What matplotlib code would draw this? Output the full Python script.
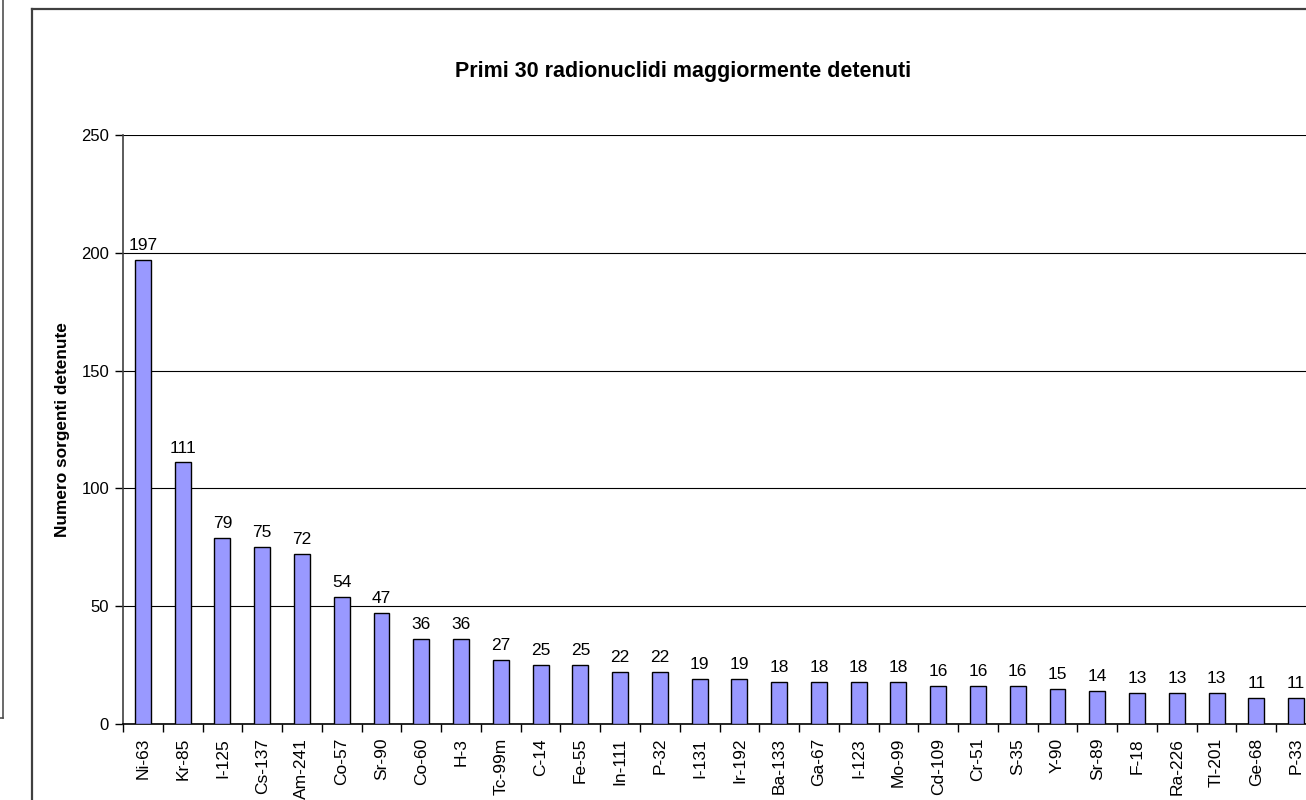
import matplotlib.pyplot as plt
from matplotlib.lines import Line2D

plt.rcParams['font.family'] = ['Liberation Sans', 'DejaVu Sans']

nuclidi = ['Ni-63', 'Kr-85', 'I-125', 'Cs-137', 'Am-241', 'Co-57', 'Sr-90', 'Co-60',
           'H-3', 'Tc-99m', 'C-14', 'Fe-55', 'In-111', 'P-32', 'I-131', 'Ir-192',
           'Ba-133', 'Ga-67', 'I-123', 'Mo-99', 'Cd-109', 'Cr-51', 'S-35', 'Y-90',
           'Sr-89', 'F-18', 'Ra-226', 'Tl-201', 'Ge-68', 'P-33']
sorgenti = [197, 111, 79, 75, 72, 54, 47, 36, 36, 27, 25, 25, 22, 22, 19, 19,
            18, 18, 18, 18, 16, 16, 16, 15, 14, 13, 13, 13, 11, 11]
yticks = [0, 50, 100, 150, 200, 250]

W, H = 1306, 800
fig = plt.figure(figsize=(W / 100, H / 100), dpi=100)

# cornice esterna del grafico (tagliata a destra e in basso)
fig.add_artist(Line2D([32 / W, 32 / W], [0, 1 - 9 / H], color='#404040', lw=1.6))
fig.add_artist(Line2D([32 / W, 1], [1 - 9 / H, 1 - 9 / H], color='#404040', lw=1.6))
fig.add_artist(Line2D([3 / W, 3 / W], [1 - 718 / H, 1], color='#505050', lw=1.2))
fig.add_artist(Line2D([0, 3 / W], [1 - 718 / H, 1 - 718 / H], color='#505050', lw=1.2))

ax = fig.add_axes([123 / W, 76 / H, 1193 / W, 589 / H])
x = list(range(len(nuclidi)))
ax.bar(x, sorgenti, width=0.4, color='#9999ff', edgecolor='black', linewidth=1.0, zorder=3)
for xi, v in zip(x, sorgenti):
    ax.annotate(str(v), (xi, v), xytext=(0, 5), textcoords='offset points',
                ha='center', va='bottom', fontsize=12.5)

ax.set_xlim(-0.5, len(nuclidi) - 0.5)
ax.set_ylim(0, 250)
ax.set_yticks(yticks)
ax.set_yticklabels([str(t) for t in yticks], fontsize=12)
ax.yaxis.grid(True, color='black', lw=0.8, zorder=0)
ax.set_xticks(x)
ax.set_xticklabels(nuclidi, rotation=90, fontsize=12.5)
ax.set_xticks([i - 0.5 for i in range(len(nuclidi) + 1)], minor=True)
ax.tick_params(axis='x', which='major', length=0, pad=10)
ax.tick_params(axis='x', which='minor', length=6, width=1, direction='out')
ax.tick_params(axis='y', length=6, width=1, direction='out', pad=4)
for s in ['top', 'right']:
    ax.spines[s].set_visible(False)
ax.spines['left'].set_color('#404040')
ax.spines['bottom'].set_color('black')
ax.spines['left'].set_linewidth(1.2)
ax.spines['bottom'].set_linewidth(1.2)

fig.text(62 / W, 1 - 430 / H, 'Numero sorgenti detenute', rotation=90,
         ha='center', va='center', fontsize=12.4, fontweight='bold')
fig.text(683 / W, 1 - 72 / H, 'Primi 30 radionuclidi maggiormente detenuti',
         ha='center', va='center', fontsize=15.5, fontweight='bold')

fig.savefig('out.png', dpi=100)
